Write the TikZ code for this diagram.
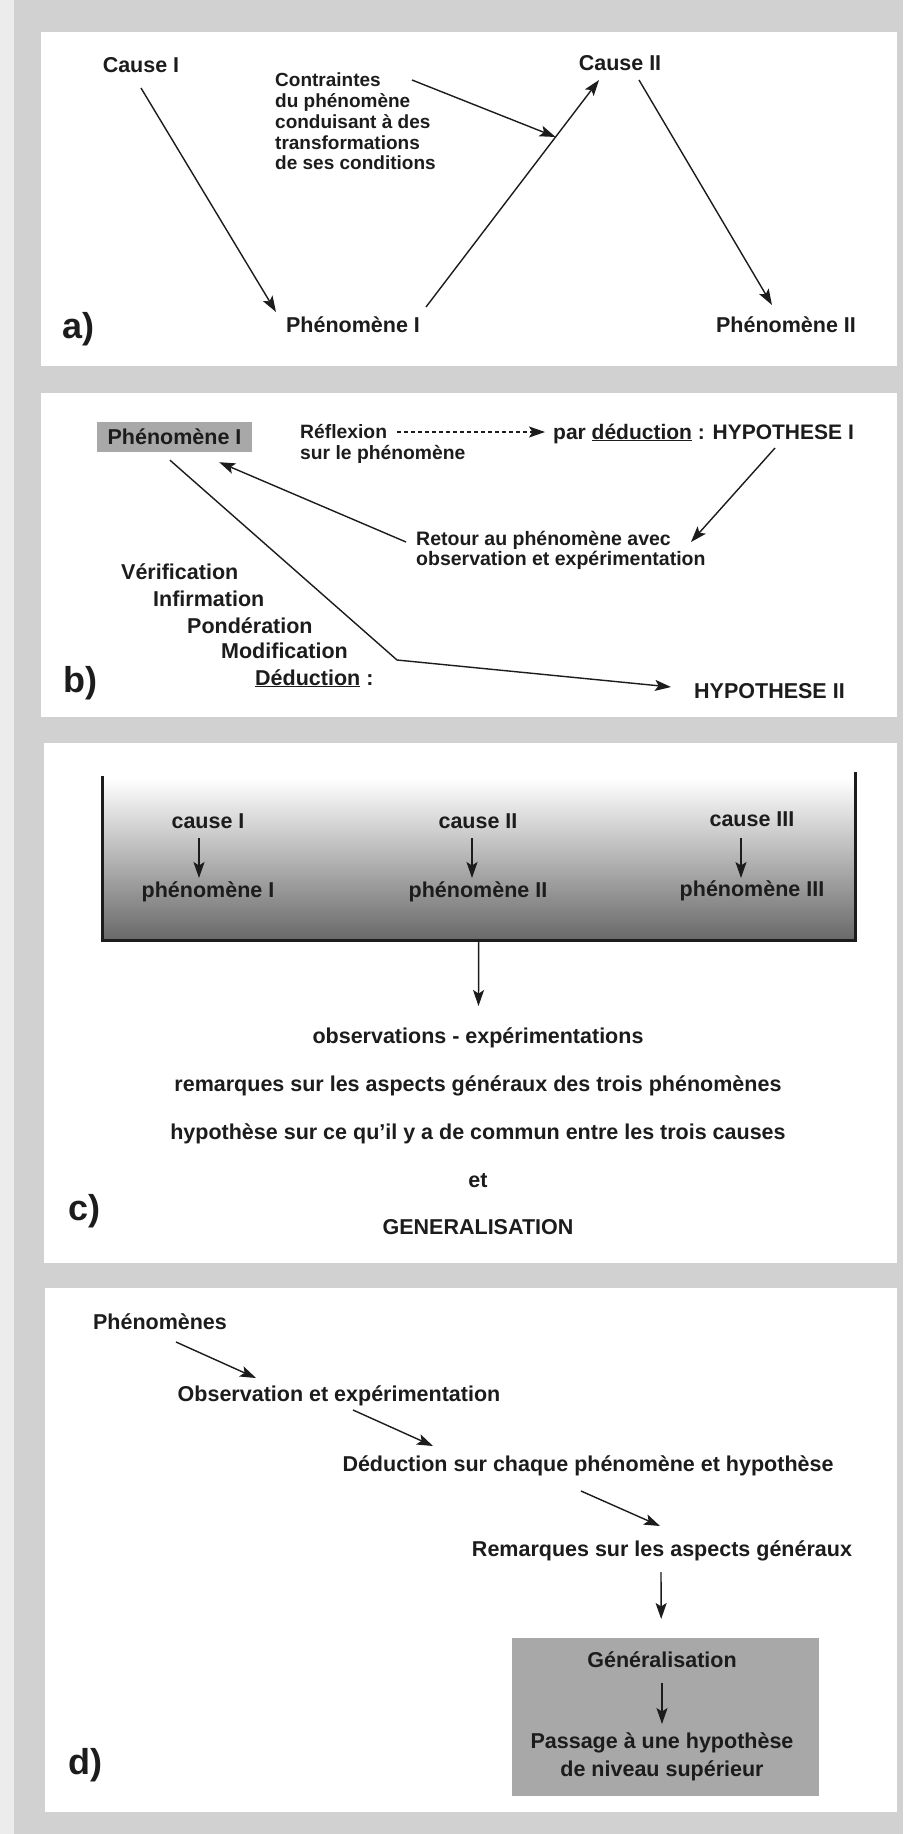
\documentclass[tikz,border=0pt]{standalone}
\usepackage{fontspec}
\setmainfont{Liberation Sans}
\usetikzlibrary{arrows.meta,calc}
\definecolor{ink}{HTML}{1C1C1C}
\definecolor{bggray}{HTML}{D1D1D1}
\definecolor{stripc}{HTML}{ECECEC}
\definecolor{boxgray}{HTML}{A8A8A8}
\definecolor{traydark}{HTML}{686868}
\tikzset{
  txt/.style={inner sep=0pt, text=ink, font=\bfseries\fontsize{21.5}{26}\selectfont},
  sml/.style={inner sep=0pt, text=ink, align=left, font=\bfseries\fontsize{19.3}{21}\selectfont},
  lbl/.style={inner sep=0pt, text=ink, anchor=base west, font=\bfseries\fontsize{36}{40}\selectfont},
  arr/.style={draw=ink, line width=1.4pt, -{Stealth[length=16pt,width=11pt,inset=3.5pt]}},
  dasharr/.style={arr, dash pattern=on 4pt off 3pt},
}
\begin{document}
\begin{tikzpicture}[x=1pt,y=-1pt]
\useasboundingbox (0,0) rectangle (903,1834);
% background and panels
\fill[bggray] (0,0) rectangle (903,1834);
\fill[stripc] (0,0) rectangle (14,1834);
\fill[white] (41,32) rectangle (897,366);
\fill[white] (41,393) rectangle (897,717);
\fill[white] (44,743) rectangle (897,1263);
\fill[white] (45,1288) rectangle (897,1812);

% ---------------- panel a
\node[txt,anchor=base] (causeI) at (141,72) {Cause I};
\node[txt,anchor=base] (phenI) at (353,332) {Phénomène I};
\node[txt,anchor=base] (causeII) at (620,70) {Cause II};
\node[txt,anchor=base] (phenII) at (786,332) {Phénomène II};
\node[sml,anchor=north west,font=\bfseries\fontsize{19}{20.7}\selectfont] (contr) at (275,73)
  {Contraintes\\du phénomène\\conduisant à des\\transformations\\de ses conditions};
\node[lbl] (la) at (62,338) {a)};
\draw[arr] ($(causeI.base)+(0,16)$) -- ($(phenI.base)+(-77,-20)$);
\draw[arr] ($(phenI.base)+(73,-25)$) -- coordinate[pos=0.749] (hit) ($(causeII.base)+(-21,10)$);
\draw[arr] ($(contr.north west)+(137,7)$) -- (hit);
\draw[arr] ($(causeII.base)+(19,10)$) -- ($(phenII.base)+(-14,-27)$);

% ---------------- panel b
\node[txt,fill=boxgray,minimum width=155pt,minimum height=30pt] (phenB) at (174.5,437) {Phénomène I};
\node[sml,anchor=north west] (reflex) at (300,424) {Réflexion\\sur le phénomène};
\node[txt,anchor=base west,font=\bfseries\fontsize{21}{26}\selectfont] (deduc) at (553,439)
  {par \underline{déduction} : HYPOTHESE I};
\node[sml,anchor=north west,font=\bfseries\fontsize{19.5}{20}\selectfont] (retour) at (416,531)
  {Retour au phénomène avec\\observation et expérimentation};
\node[txt,anchor=base west] (hypII) at (694,698) {HYPOTHESE II};
\node[txt,anchor=base west] (verif) at (121,579) {Vérification};
\node[txt,anchor=base west] (infirm) at (153,606) {Infirmation};
\node[txt,anchor=base west] (ponder) at (187,633) {Pondération};
\node[txt,anchor=base west] (modif) at (221,658) {Modification};
\node[txt,anchor=base west] (deducB) at (255,685) {\underline{Déduction} :};
\node[lbl] (lb) at (63,692) {b)};
\draw[dasharr] ($(reflex.north west)+(97,8)$) -- ($(deduc.base west)+(-8,-7)$);
\draw[arr] ($(deduc.base west)+(222,9)$) -- ($(retour.north west)+(275,11)$);
\draw[arr] ($(retour.north west)+(-10,11)$) -- ($(phenB.south east)+(-33,10)$);
\draw[arr] ($(phenB.south)+(-4.5,8)$) -- ($(modif.base west)+(176,2)$) -- ($(hypII.base west)+(-23,-11)$);

% ---------------- panel c
\node[anchor=north west,inner sep=0pt,minimum width=753pt,minimum height=162pt,
      top color=white,bottom color=traydark] (tray) at (102,778) {};
\draw[ink,line width=3pt] ([yshift=2pt]tray.north west) -- (tray.south west) -- (tray.south east) -- ([yshift=6pt]tray.north east);
\node[txt,anchor=base] (c1) at (208,828) {cause I};
\node[txt,anchor=base] (p1) at (208,897) {phénomène I};
\node[txt,anchor=base] (c2) at (478,828) {cause II};
\node[txt,anchor=base] (p2) at (478,897) {phénomène II};
\node[txt,anchor=base] (c3) at (752,826) {cause III};
\node[txt,anchor=base] (p3) at (752,896) {phénomène III};
\draw[arr] ($(c1.base)+(-9,10)$) -- ($(p1.base)+(-9,-19)$);
\draw[arr] ($(c2.base)+(-6,10)$) -- ($(p2.base)+(-6,-19)$);
\draw[arr] ($(c3.base)+(-11,12)$) -- ($(p3.base)+(-11,-18)$);
\node[txt,anchor=base] (obs) at (478,1043) {observations - expérimentations};
\node[txt,anchor=base] (rem) at (478,1091) {remarques sur les aspects généraux des trois phénomènes};
\node[txt,anchor=base] (hyp) at (478,1139) {hypothèse sur ce qu'il y a de commun entre les trois causes};
\node[txt,anchor=base] (et) at (478,1187) {et};
\node[txt,anchor=base] (gen) at (478,1234) {GENERALISATION};
\node[lbl] (lc) at (68,1220) {c)};
\draw[arr] (tray.south) -- ($(obs.base)+(0.5,-37)$);

% ---------------- panel d
\node[txt,anchor=base] (phens) at (160,1329) {Phénomènes};
\node[txt,anchor=base] (obsd) at (339,1401) {Observation et expérimentation};
\node[txt,anchor=base] (ded) at (588,1471) {Déduction sur chaque phénomène et hypothèse};
\node[txt,anchor=base] (remd) at (662,1556) {Remarques sur les aspects généraux};
\node[anchor=north west,inner sep=0pt,fill=boxgray,minimum width=307pt,minimum height=158pt] (genbox) at (512,1638) {};
\node[txt,anchor=base] (gend) at (662,1667) {Généralisation};
\node[txt,anchor=north,align=center,font=\bfseries\fontsize{21.5}{28}\selectfont] (pass) at (662,1733)
  {Passage à une hypothèse\\de niveau supérieur};
\node[lbl] (ld) at (68,1774) {d)};
\draw[arr] ($(phens.base)+(16,13)$) -- ($(obsd.base)+(-83,-23)$);
\draw[arr] ($(obsd.base)+(14,9)$) -- ($(ded.base)+(-155,-25)$);
\draw[arr] ($(ded.base)+(-7,20)$) -- ($(remd.base)+(-2,-30)$);
\draw[arr] ($(remd.base)+(-1,16)$) -- ($(genbox.north)+(-4.5,-19)$);
\draw[arr] ($(gend.base)+(0,16)$) -- ($(pass.north)+(0,-9)$);
\end{tikzpicture}
\end{document}
